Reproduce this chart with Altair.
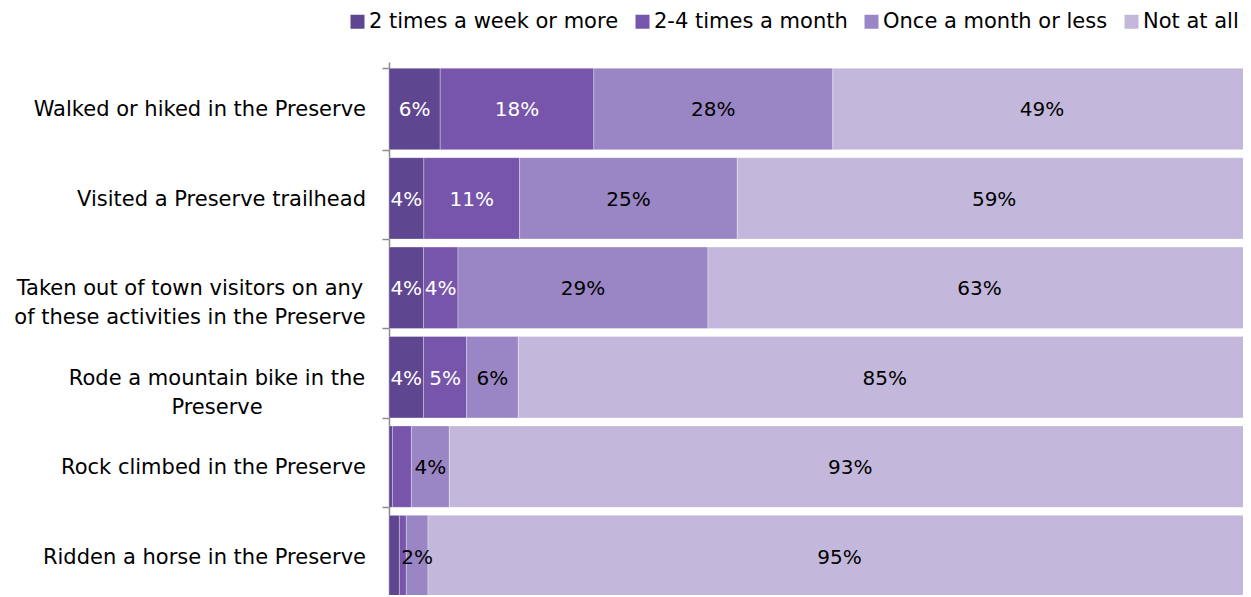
import altair as alt
import pandas as pd

categories = [
    "Walked or hiked in the Preserve",
    "Visited a Preserve trailhead",
    "Taken out of town visitors on any of these activities in the Preserve",
    "Rode a mountain bike in the Preserve",
    "Rock climbed in the Preserve",
    "Ridden a horse in the Preserve",
]
category_lines = [
    "Walked or hiked in the Preserve",
    "Visited a Preserve trailhead",
    "Taken out of town visitors on any\nof these activities in the Preserve",
    "Rode a mountain bike in the\nPreserve",
    "Rock climbed in the Preserve",
    "Ridden a horse in the Preserve",
]
frequencies = ["2 times a week or more", "2-4 times a month", "Once a month or less", "Not at all"]
colors = ["#5f4691", "#7655aa", "#9a86c4", "#c3b8db"]

v_week = [6, 4, 4, 4, 0.4, 1.2]
v_month = [18, 11, 4, 5, 2.2, 0.8]
v_once = [28, 25, 29, 6, 4.4, 2.5]
v_not = [49, 59, 63, 85, 93, 95]

l_week = ["6%", "4%", "4%", "4%", "", ""]
l_month = ["18%", "11%", "4%", "5%", "", ""]
l_once = ["28%", "25%", "29%", "6%", "4%", "2%"]
l_not = ["49%", "59%", "63%", "85%", "93%", "95%"]

rows = []
for fi, (vals, labs) in enumerate(zip([v_week, v_month, v_once, v_not], [l_week, l_month, l_once, l_not])):
    for ci, cat in enumerate(categories):
        rows.append({"cat": cat, "freq": frequencies[fi], "order": fi, "value": vals[ci], "label": labs[ci]})
df = pd.DataFrame(rows)

cat_df = pd.DataFrame({"cat": categories, "disp": category_lines,
                       "multi": ["\n" in s for s in category_lines]})

FONT = "DejaVu Sans"

yscale = alt.Scale(domain=categories, paddingInner=0.09, paddingOuter=0.07)
y_axis = alt.Axis(labels=False, title=None, ticks=True, tickBand="extent",
                  tickSize=7, tickColor="#8c8c8c", tickWidth=1.5,
                  domainColor="#8c8c8c", domainWidth=1.5, grid=False)
y_enc = alt.Y("cat:N", sort=categories, scale=yscale, axis=y_axis)

base = (
    alt.Chart(df)
    .transform_joinaggregate(total="sum(value)", groupby=["cat"])
    .transform_calculate(pct="datum.value / datum.total")
    .transform_stack(stack="pct", as_=["x0", "x1"], groupby=["cat"], sort=[alt.SortField("order")])
    .transform_calculate(mid="(datum.x0 + datum.x1) / 2")
)

xscale = alt.Scale(domain=[0, 1], nice=False, zero=False)

bars = base.mark_bar(stroke="white", strokeWidth=0.6, strokeOpacity=0.5).encode(
    y=y_enc,
    x=alt.X("x0:Q", scale=xscale, axis=None),
    x2="x1:Q",
    color=alt.Color(
        "freq:N",
        scale=alt.Scale(domain=frequencies, range=colors),
        legend=alt.Legend(
            orient="none", legendX=-42, legendY=-51, direction="horizontal", title=None,
            symbolType="square", symbolSize=196, symbolStrokeWidth=0, symbolOpacity=1,
            labelFont=FONT, labelFontSize=21, labelColor="black", labelOffset=1,
            labelLimit=0, columnPadding=13,
        ),
    ),
)

texts = base.mark_text(font=FONT, fontSize=20, baseline="middle", align="center", dy=1.5).encode(
    y=y_enc,
    x=alt.X("mid:Q", scale=xscale, axis=None),
    text="label:N",
    color=alt.condition("datum.order < 2", alt.value("white"), alt.value("black")),
)

single = alt.Chart(cat_df).transform_filter("!datum.multi").mark_text(
    font=FONT, fontSize=21, align="right", baseline="middle", color="black", dy=1.5
).encode(y=y_enc, x=alt.value(-23), text="disp:N")

taken = alt.Chart(cat_df).transform_filter(alt.datum.cat == categories[2]).mark_text(
    font=FONT, fontSize=21, align="center", baseline="middle", color="black",
    lineBreak="\n", lineHeight=29, dy=1.5
).encode(y=y_enc, x=alt.value(-199), text="disp:N")

rode = alt.Chart(cat_df).transform_filter(alt.datum.cat == categories[3]).mark_text(
    font=FONT, fontSize=21, align="center", baseline="middle", color="black",
    lineBreak="\n", lineHeight=29, dy=1.5
).encode(y=y_enc, x=alt.value(-172), text="disp:N")

chart = (
    alt.layer(bars, texts, single, taken, rode)
    .properties(
        width=862, height=541,
        padding={"left": 381, "top": 54, "right": -8, "bottom": -8},
        autosize=alt.AutoSizeParams(type="none"),
    )
    .configure_view(stroke=None)
)

chart.save("out.html", embed_options={"renderer": "svg", "actions": False})
